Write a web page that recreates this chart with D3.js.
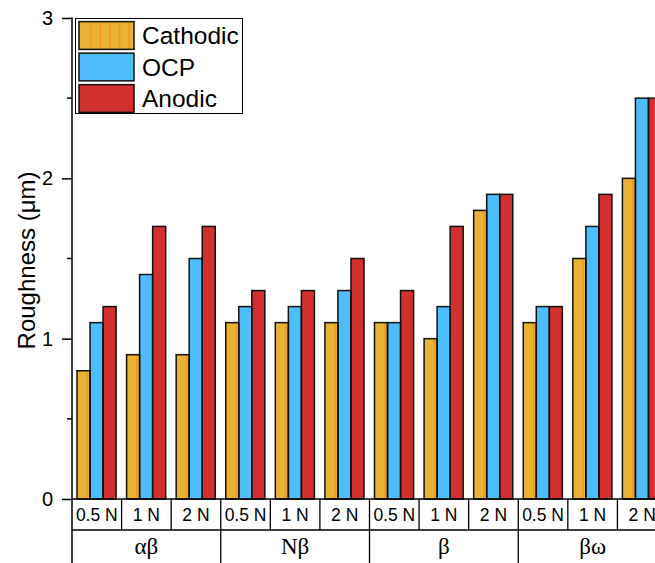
<!DOCTYPE html>
<html><head><meta charset="utf-8">
<script src="https://cdn.jsdelivr.net/npm/d3@7"></script>
<style>body{margin:0;background:#fff}svg{display:block}</style>
</head><body>
<script>
const groups = ["αβ", "Nβ", "β", "βω"];
const loads = ["0.5 N", "1 N", "2 N"];
const series = ["Cathodic", "OCP", "Anodic"];
const cathodic = [0.8, 0.9, 0.9, 1.1, 1.1, 1.1, 1.1, 1.0, 1.8, 1.1, 1.5, 2.0];
const ocp      = [1.1, 1.4, 1.5, 1.2, 1.2, 1.3, 1.1, 1.2, 1.9, 1.2, 1.7, 2.5];
const anodic   = [1.2, 1.7, 1.7, 1.3, 1.3, 1.5, 1.3, 1.7, 1.9, 1.2, 1.9, 2.5];
const yTicks = [0, 1, 2, 3];
const colors = ["#E8B235", "#4DBEFA", "#D1302F"];
const stripeColor = "#F39A1E";

const W = 655, H = 563;
const svg = d3.select("body").append("svg").attr("width", W).attr("height", H);

const x0 = 72, x1 = 667, yTop = 18, yBase = 499, row1 = 530;
const cells = [];
groups.forEach((g, gi) => loads.forEach((l, li) => cells.push({g, l, gi, li, key: g + "|" + l})));
const vals = [cathodic, ocp, anodic];

const xCell = d3.scaleBand().domain(cells.map(c => c.key)).range([x0, x1]).padding(0);
const xGroup = d3.scaleBand().domain(groups).range([x0, x1]).padding(0);
const xSub = d3.scaleBand().domain(series).range([5, xCell.bandwidth() - 5.5]).padding(0);
const y = d3.scaleLinear().domain([0, 3]).range([yBase, yTop]);

// bars
const bars = [];
cells.forEach((c, i) => series.forEach((s, si) => bars.push({c, s, si, v: vals[si][i]})));
const gb = svg.append("g");
gb.selectAll("rect.bar").data(bars).join("rect")
  .attr("x", d => xCell(d.c.key) + xSub(d.s))
  .attr("y", d => y(d.v))
  .attr("width", xSub.bandwidth())
  .attr("height", d => y(0) - y(d.v))
  .attr("fill", d => colors[d.si]);
// stripes on cathodic bars
gb.selectAll("rect.stripe").data(bars.filter(d => d.si === 0)).join("rect")
  .attr("x", d => xCell(d.c.key) + xSub(d.s) + 9.6)
  .attr("y", d => y(d.v))
  .attr("width", 1.6)
  .attr("height", d => y(0) - y(d.v))
  .attr("fill", stripeColor);
gb.selectAll("rect.outline").data(bars).join("rect")
  .attr("x", d => xCell(d.c.key) + xSub(d.s))
  .attr("y", d => y(d.v))
  .attr("width", xSub.bandwidth())
  .attr("height", d => y(0) - y(d.v))
  .attr("fill", "none")
  .attr("stroke", "#111").attr("stroke-width", 1.5);

// y axis
const yAxis = d3.axisLeft(y).tickValues(yTicks).tickSize(10).tickPadding(9).tickFormat(d3.format("d"));
const ga = svg.append("g").attr("transform", `translate(${x0},0)`).call(yAxis);
ga.select(".domain").remove();
ga.selectAll("line").attr("stroke", "#000").attr("stroke-width", 1.5);
ga.selectAll("text").attr("font-family", "Liberation Sans, Arial, sans-serif").attr("font-size", 20).attr("fill", "#000");
const minor = d3.range(0.5, 3, 1);
svg.append("g").selectAll("line").data(minor).join("line")
  .attr("x1", x0 - 5).attr("x2", x0).attr("y1", d => y(d)).attr("y2", d => y(d))
  .attr("stroke", "#000").attr("stroke-width", 1.5);
svg.append("line").attr("x1", x0).attr("x2", x0).attr("y1", yTop - 0.75).attr("y2", H)
  .attr("stroke", "#000").attr("stroke-width", 1.5);

svg.append("text").attr("transform", `translate(35,${(yTop + yBase) / 2 + 2}) rotate(-90)`)
  .attr("text-anchor", "middle").attr("font-family", "Liberation Sans, Arial, sans-serif")
  .attr("font-size", 24).text("Roughness (μm)");

// x category table
const lines = svg.append("g").attr("stroke", "#000").attr("stroke-width", 1.3);
lines.append("line").attr("x1", x0).attr("x2", W).attr("y1", yBase).attr("y2", yBase);
lines.append("line").attr("x1", x0).attr("x2", W).attr("y1", row1).attr("y2", row1);
lines.selectAll("line.c").data(cells.filter(c => c.li > 0)).join("line")
  .attr("x1", c => xCell(c.key)).attr("x2", c => xCell(c.key))
  .attr("y1", yBase).attr("y2", row1);
lines.selectAll("line.g").data(groups.slice(1)).join("line")
  .attr("x1", g => xGroup(g)).attr("x2", g => xGroup(g))
  .attr("y1", yBase).attr("y2", H);

svg.append("g").selectAll("text").data(cells).join("text")
  .attr("x", c => xCell(c.key) + xCell.bandwidth() / 2)
  .attr("y", 521).attr("text-anchor", "middle")
  .attr("font-family", "Liberation Sans, Arial, sans-serif").attr("font-size", 17.5)
  .text(c => c.l);
svg.append("g").selectAll("text").data(groups).join("text")
  .attr("x", g => xGroup(g) + xGroup.bandwidth() / 2)
  .attr("y", 554).attr("text-anchor", "middle")
  .attr("font-family", "Liberation Serif, Times New Roman, serif").attr("font-size", 23)
  .text(g => g);

// legend
const lg = svg.append("g");
lg.append("rect").attr("x", 75.5).attr("y", 18.5).attr("width", 167).attr("height", 95)
  .attr("fill", "#fff").attr("stroke", "#000").attr("stroke-width", 1);
const ly = d3.scaleBand().domain(series).range([21, 113]).paddingInner(0.12).paddingOuter(0.02);
series.forEach((s, i) => {
  const yy = ly(s), hh = ly.bandwidth();
  lg.append("rect").attr("x", 79).attr("y", yy).attr("width", 55).attr("height", hh).attr("fill", colors[i]);
  if (i === 0) {
    d3.range(90, 134, 9.6).forEach(sx => lg.append("rect").attr("x", sx).attr("y", yy).attr("width", 1.6).attr("height", hh).attr("fill", stripeColor));
  }
  lg.append("rect").attr("x", 79).attr("y", yy).attr("width", 55).attr("height", hh)
    .attr("fill", "none").attr("stroke", "#111").attr("stroke-width", 1.5);
  lg.append("text").attr("x", 142).attr("y", yy + hh / 2 + 8.5)
    .attr("font-family", "Liberation Sans, Arial, sans-serif").attr("font-size", 24.5).text(s);
});
</script>
</body></html>
